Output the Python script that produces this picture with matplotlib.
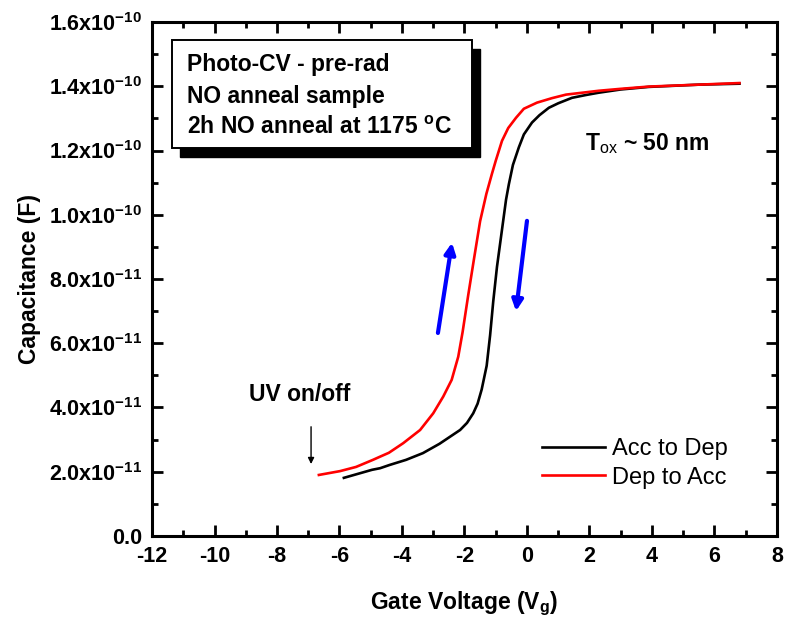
import numpy as np
import matplotlib
matplotlib.use('Agg')
import matplotlib.pyplot as plt
from matplotlib.ticker import MultipleLocator, FixedLocator
from matplotlib.patches import Rectangle

plt.rcParams['font.family'] = ['Liberation Sans', 'DejaVu Sans']
plt.rcParams['mathtext.fontset'] = 'custom'
plt.rcParams['mathtext.rm'] = 'Liberation Sans'
plt.rcParams['mathtext.bf'] = 'Liberation Sans:bold'

# Acc to Dep (black) (units of 1e-11 F)
vg_acc = [-5.86, -4.96, -4.7, -4.4, -3.87, -3.33, -2.8, -2.14, -1.92, -1.72, -1.58, -1.45,
          -1.29, -1.18, -1.08, -0.96, -0.67, -0.58, -0.45, -0.26, -0.1, 0.16, 0.4,
          0.7, 1.0, 1.44, 1.9, 2.3, 3.0, 3.9, 5.5, 6.8]
c_acc = [1.81, 2.06, 2.11, 2.21, 2.37, 2.58, 2.87, 3.30, 3.52, 3.82, 4.12, 4.56,
         5.3, 6.25, 7.3, 8.38, 10.47, 10.95, 11.55, 12.1, 12.5, 12.87, 13.1,
         13.33, 13.47, 13.64, 13.73, 13.8, 13.9, 13.98, 14.05, 14.08]

# Dep to Acc (red)
vg_dep = [-6.66, -5.98, -5.47, -4.93, -4.7, -4.42, -3.96, -3.42, -3.0, -2.68, -2.41,
          -2.2, -2.06, -1.88, -1.7, -1.5, -1.3, -1.12, -1.0, -0.8, -0.6, -0.35,
          -0.1, 0.32, 0.8, 1.25, 2.3, 3.0, 3.9, 5.5, 6.8]
c_dep = [1.9, 2.02, 2.15, 2.37, 2.47, 2.59, 2.89, 3.30, 3.82, 4.34, 4.86,
         5.58, 6.35, 7.5, 8.6, 9.8, 10.65, 11.28, 11.68, 12.3, 12.7, 13.02,
         13.3, 13.49, 13.63, 13.74, 13.86, 13.92, 13.99, 14.05, 14.1]

y_ticks = [0, 2e-11, 4e-11, 6e-11, 8e-11, 1e-10, 1.2e-10, 1.4e-10, 1.6e-10]
y_labels = ['0.0', r'2.0x10$^{\mathbf{-11}}$', r'4.0x10$^{\mathbf{-11}}$',
            r'6.0x10$^{\mathbf{-11}}$', r'8.0x10$^{\mathbf{-11}}$',
            r'1.0x10$^{\mathbf{-10}}$', r'1.2x10$^{\mathbf{-10}}$',
            r'1.4x10$^{\mathbf{-10}}$', r'1.6x10$^{\mathbf{-10}}$']
x_ticks = list(range(-12, 9, 2))

fig = plt.figure(figsize=(7.86, 6.2), dpi=100)
ax = fig.add_axes([0.1934, 0.1355, 0.7951, 0.829])

ax.plot(vg_acc, np.array(c_acc) * 1e-11, color='black', lw=1.9, label='Acc to Dep')
ax.plot(vg_dep, np.array(c_dep) * 1e-11, color='#ff0000', lw=1.9, label='Dep to Acc')

ax.set_xlim(-12, 8)
ax.set_ylim(0, 1.6e-10)
ax.xaxis.set_minor_locator(MultipleLocator(1))
ax.yaxis.set_major_locator(FixedLocator(y_ticks))
ax.yaxis.set_minor_locator(MultipleLocator(1e-11))
ax.set_yticklabels(y_labels)
ax.set_xticks(x_ticks)
ax.set_xticklabels([str(v) for v in x_ticks])

for s in ax.spines.values():
    s.set_linewidth(2.2)
ax.tick_params(which='both', direction='in', top=True, right=True, width=2)
ax.tick_params(which='major', length=8, labelsize=15.5, pad=7)
ax.tick_params(which='minor', length=4)
for lab in ax.get_xticklabels() + ax.get_yticklabels():
    lab.set_fontweight('bold')

ax.set_xlabel('Gate Voltage (V$_{\\mathbf{g}}$)', fontsize=16.5, fontweight='bold')
ax.set_ylabel('Capacitance (F)', fontsize=16.5, fontweight='bold')
ax.xaxis.set_label_coords(0.5, -0.105)
ax.yaxis.set_label_coords(-0.178, 0.5)

# sweep direction arrows
ax.annotate('', xy=(-2.4, 9.13e-11), xytext=(-2.85, 6.32e-11),
            arrowprops=dict(arrowstyle='-|>', color='blue', lw=3, mutation_scale=16, shrinkA=0, shrinkB=0))
ax.annotate('', xy=(-0.35, 7.0e-11), xytext=(0.0, 9.81e-11),
            arrowprops=dict(arrowstyle='-|>', color='blue', lw=3, mutation_scale=16, shrinkA=0, shrinkB=0))

# UV marker
ax.annotate('', xy=(-6.91, 2.24e-11), xytext=(-6.91, 3.4e-11),
            arrowprops=dict(arrowstyle='-|>', color='black', lw=1, mutation_scale=9, shrinkA=0, shrinkB=0))
ax.text(-8.9, 4.42e-11, 'UV on/off', fontsize=16.5, fontweight='bold', va='center', ha='left')

ax.text(1.86, 12.23e-11, r'T$_{\mathrm{ox}}$ ~ 50 nm', fontsize=16.5, fontweight='bold',
        va='center', ha='left')

# info box with shadow
ax.add_patch(Rectangle((180 / 786, 1 - 157 / 620), 300 / 786, 108 / 620, transform=fig.transFigure,
                       facecolor='black', edgecolor='black', zorder=5))
ax.add_patch(Rectangle((172 / 786, 1 - 148 / 620), 300 / 786, 108 / 620, transform=fig.transFigure,
                       facecolor='white', edgecolor='black', lw=1.4, zorder=6))
box_lines = ['Photo-CV - pre-rad', 'NO anneal sample', r'2h NO anneal at 1175 $^{\mathbf{o}}$C']
for i, t in enumerate(box_lines):
    fig.text(187 / 786, 1 - (65 + 31 * i) / 620, t, fontsize=16.5, fontweight='bold',
             va='center', ha='left', zorder=7)

ax.legend(loc='upper left', bbox_to_anchor=(0.624, 0.19), frameon=False, fontsize=17,
          handlelength=2.67, handletextpad=0.3, labelspacing=0.27, borderaxespad=0, borderpad=0)

fig.savefig('out.png', dpi=100)
